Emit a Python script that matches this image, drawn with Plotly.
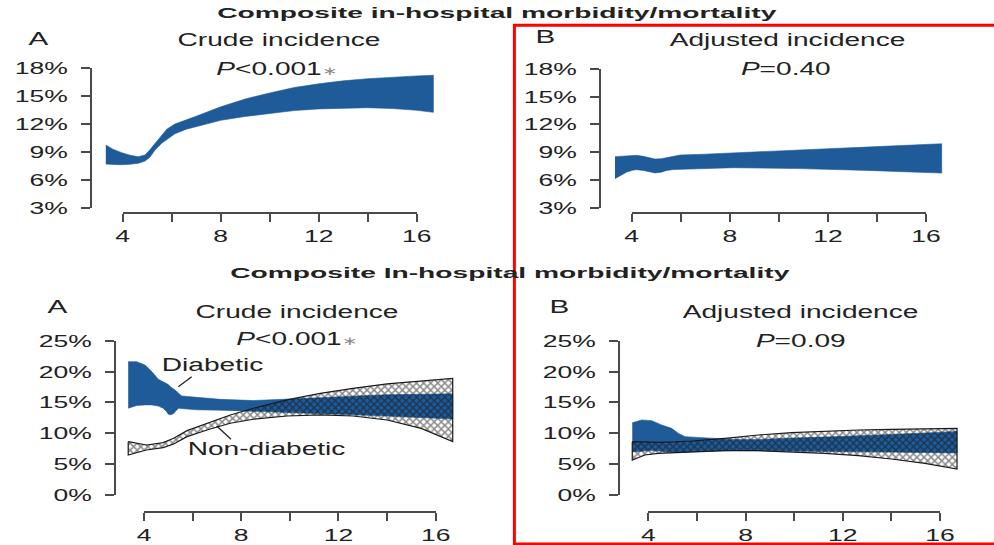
import plotly.graph_objects as go

W, H = 994, 545
BLUE = "#1f5b99"
INK = "#222222"
AXIS = "#4a4a4a"
FONT = "Liberation Sans"

# ---------------- data (incidence, %) ----------------
# Top row: whole cohort, composite in-hospital morbidity/mortality
crude_x = [3.31, 3.6, 3.96, 4.3, 4.64, 4.91, 5.1, 5.32, 5.59, 5.8, 6.13, 6.6, 7.0,
           8.0, 9.0, 10.0, 11.0, 12.0, 13.0, 14.0, 15.0, 16.0, 16.68]
crude_hi = [9.74, 9.3, 8.92, 8.65, 8.49, 8.67, 9.2, 9.93, 10.8, 11.45, 12.0, 12.5, 12.85,
            13.85, 14.7, 15.35, 15.93, 16.33, 16.65, 16.88, 17.07, 17.18, 17.25]
crude_lo = [7.7, 7.66, 7.63, 7.68, 7.77, 8.02, 8.4, 9.2, 9.93, 10.35, 10.95, 11.45, 11.75,
            12.4, 12.82, 13.17, 13.45, 13.63, 13.73, 13.76, 13.67, 13.48, 13.26]

adj_x = [3.32, 3.8, 4.07, 4.2, 4.47, 4.75, 4.95, 5.2, 5.43, 5.7, 5.97, 7.0, 8.14,
         10.86, 13.58, 16.64]
adj_hi = [8.53, 8.62, 8.67, 8.67, 8.56, 8.35, 8.27, 8.3, 8.42, 8.6, 8.7, 8.8, 8.92,
          9.28, 9.56, 9.92]
adj_lo = [6.16, 6.87, 7.08, 7.13, 7.05, 6.9, 6.78, 6.85, 7.05, 7.14, 7.19, 7.28, 7.34,
          7.24, 7.05, 6.76]

# Bottom row: diabetic vs non-diabetic
dm_crude_x = [3.35, 3.7, 4.04, 4.32, 4.59, 4.79, 4.93, 5.0, 5.1, 5.22, 5.28, 5.42, 5.55,
              6.17, 7.13, 8.5, 10.0, 12.0, 14.0, 16.7]
dm_crude_hi = [21.6, 21.6, 21.07, 20.0, 18.75, 18.3, 18.1, 17.9, 17.5, 17.2, 17.0, 16.5,
               16.05, 15.83, 15.5, 15.3, 15.55, 15.95, 16.25, 16.4]
dm_crude_lo = [14.05, 14.5, 14.6, 14.6, 14.4, 14.05, 13.5, 13.1, 13.0, 13.2, 13.5, 14.05,
               13.95, 13.8, 13.75, 13.6, 13.35, 13.1, 12.8, 12.3]

nd_crude_x = [3.35, 4.1, 4.79, 5.22, 5.77, 6.59, 7.55, 8.5, 9.88, 11.25, 12.6, 14.0, 15.4, 16.7]
nd_crude_hi = [8.64, 8.1, 8.48, 9.19, 10.43, 11.62, 12.97, 14.05, 15.4, 16.48, 17.29,
               17.99, 18.5, 18.9]
nd_crude_lo = [6.48, 7.29, 7.67, 8.27, 9.45, 10.53, 11.62, 12.27, 12.8, 12.97, 12.8,
               12.15, 10.8, 8.64]

dm_adj_x = [3.34, 3.73, 4.14, 4.55, 4.96, 5.23, 5.51, 6.47, 7.5, 8.5, 10.0, 12.0, 14.0, 16.7]
dm_adj_hi = [11.7, 12.15, 12.05, 11.35, 10.8, 10.0, 9.45, 9.19, 9.0, 9.0, 9.2, 9.5, 9.8, 10.3]
dm_adj_lo = [7.0, 7.1, 7.2, 7.1, 6.9, 6.9, 7.0, 7.1, 7.2, 7.2, 7.15, 7.05, 6.95, 6.8]

nd_adj_x = [3.34, 3.86, 4.41, 5.09, 5.78, 7.15, 8.52, 9.89, 11.26, 12.64, 14.0, 15.38, 16.7]
nd_adj_hi = [8.64, 8.58, 8.53, 8.6, 8.75, 9.19, 9.72, 10.1, 10.37, 10.53, 10.64, 10.75, 10.8]
nd_adj_lo = [5.67, 6.48, 6.75, 6.86, 7.02, 7.18, 7.18, 7.02, 6.75, 6.37, 5.83, 5.13, 4.21]

x_ticks = [4, 6, 8, 10, 12, 14, 16]
x_tick_text = ["4", "", "8", "", "12", "", "16"]
top_y_ticks = [3, 6, 9, 12, 15, 18]
bot_y_ticks = [0, 5, 10, 15, 20, 25]

# ---------------- panel geometry (pixels) ----------------
# ax: pixel span of the x axis line (value 4 -> 16); ay: pixel span of y axis line
# xl_y: vertical pixel of x axis line; yl_x: horizontal pixel of y axis line
# box: data area in pixels (x0, x1, y_top, y_bottom)
panels = [
    dict(ax=(122.7, 416.7), ay=(207.7, 68.3), yr=(3, 18), xl_y=213, yl_x=91,
         box=(92, 448, 45, 212), yt=top_y_ticks),
    dict(ax=(631.7, 926.0), ay=(208.0, 68.7), yr=(3, 18), xl_y=213, yl_x=600,
         box=(601, 962, 45, 212), yt=top_y_ticks),
    dict(ax=(144.0, 435.7), ay=(495.0, 340.7), yr=(0, 25), xl_y=512, yl_x=115,
         box=(116, 465, 330, 510), yt=bot_y_ticks),
    dict(ax=(648.3, 940.0), ay=(495.0, 340.7), yr=(0, 25), xl_y=512, yl_x=619,
         box=(620, 978, 330, 510), yt=bot_y_ticks),
]


def lin(p, p0, p1, v0, v1):
    return v0 + (p - p0) * (v1 - v0) / (p1 - p0)


fig = go.Figure()
layout = {}

for i, pnl in enumerate(panels):
    d = i + 1            # data axes
    s = i + 5            # display axes (R-style detached axis lines)
    x0, x1, yt, yb = pnl["box"]
    xr = [lin(x0, *pnl["ax"], 4, 16), lin(x1, *pnl["ax"], 4, 16)]
    yr = [lin(yb, *pnl["ay"], *pnl["yr"]), lin(yt, *pnl["ay"], *pnl["yr"])]
    layout[f"xaxis{d}"] = dict(domain=[x0 / W, x1 / W], range=xr, visible=False,
                               anchor=f"y{d}", fixedrange=True, automargin=False)
    layout[f"yaxis{d}"] = dict(domain=[1 - yb / H, 1 - yt / H], range=yr, visible=False,
                               anchor=f"x{d}", fixedrange=True, automargin=False)
    layout[f"xaxis{s}"] = dict(
        domain=[pnl["ax"][0] / W, pnl["ax"][1] / W], range=[4, 16],
        anchor="free", position=1 - pnl["xl_y"] / H, side="bottom", automargin=False,
        showline=True, linecolor=AXIS, linewidth=1.5, showgrid=False, zeroline=False,
        ticks="outside", ticklen=8, tickwidth=1.5, tickcolor=AXIS,
        tickvals=x_ticks, ticktext=x_tick_text, ticklabelstandoff=0,
        tickfont=dict(family=FONT, size=17, color=INK), fixedrange=True)
    layout[f"yaxis{s}"] = dict(
        domain=[1 - pnl["ay"][0] / H, 1 - pnl["ay"][1] / H], range=list(pnl["yr"]),
        anchor="free", position=pnl["yl_x"] / W, side="left", automargin=False,
        showline=True, linecolor=AXIS, linewidth=1.5, showgrid=False, zeroline=False,
        ticks="outside", ticklen=9, tickwidth=1.5, tickcolor=AXIS,
        tickvals=pnl["yt"], ticktext=[f"{v}%" for v in pnl["yt"]], ticklabelstandoff=10,
        tickfont=dict(family=FONT, size=17, color=INK), fixedrange=True)
    fig.add_trace(go.Scatter(x=[], y=[], xaxis=f"x{s}", yaxis=f"y{s}",
                             showlegend=False, hoverinfo="skip"))


def solid_band(xs, hi, lo, d):
    fig.add_trace(go.Scatter(
        x=xs + xs[::-1], y=hi + lo[::-1], fill="toself", fillcolor=BLUE,
        mode="lines", line=dict(width=0.6, color=BLUE),
        xaxis=f"x{d}", yaxis=f"y{d}", showlegend=False, hoverinfo="skip"))


def hatched_band(xs, hi, lo, d):
    fig.add_trace(go.Scatter(
        x=xs + xs[::-1] + xs[:1], y=hi + lo[::-1] + hi[:1], fill="toself",
        fillcolor="rgba(0,0,0,0)",
        fillpattern=dict(shape="x", fgcolor="#141414", bgcolor="rgba(0,0,0,0)",
                         size=5, solidity=0.5),
        mode="lines", line=dict(width=1.2, color="#1a1a1a"),
        xaxis=f"x{d}", yaxis=f"y{d}", showlegend=False, hoverinfo="skip"))


solid_band(crude_x, crude_hi, crude_lo, 1)
solid_band(adj_x, adj_hi, adj_lo, 2)
solid_band(dm_crude_x, dm_crude_hi, dm_crude_lo, 3)
hatched_band(nd_crude_x, nd_crude_hi, nd_crude_lo, 3)
solid_band(dm_adj_x, dm_adj_hi, dm_adj_lo, 4)
hatched_band(nd_adj_x, nd_adj_hi, nd_adj_lo, 4)


def label(text, px, py, size, color=INK):
    return dict(text=text, x=px / W, y=1 - py / H, xref="paper", yref="paper",
                xanchor="center", yanchor="middle", showarrow=False,
                font=dict(family=FONT, size=size, color=color))


star = "<span style='color:#8a8a8a;font-size:12px'>∗</span>"
annotations = [
    label("<b>Composite in-hospital morbidity/mortality</b>", 497, 13, 15),
    label("<b>Composite In-hospital morbidity/mortality</b>", 510, 272, 15),
    label("A", 38, 38, 19), label("B", 545, 37, 19),
    label("A", 57, 306, 19), label("B", 559, 306, 19),
    label("Crude incidence", 279, 40, 18),
    label("<i>P</i>&lt;0.001" + star, 277, 69, 18),
    label("Adjusted incidence", 787, 40, 18),
    label("<i>P</i>=0.40", 786, 69, 18),
    label("Crude incidence", 297, 312, 18),
    label("<i>P</i>&lt;0.001" + star, 297, 339, 18),
    label("Adjusted incidence", 800, 312, 18),
    label("<i>P</i>=0.09", 801, 341, 18),
    label("Diabetic", 212, 365, 18),
    label("Non-diabetic", 266, 449, 18),
]


def seg(x0, y0, x1, y1, color=INK, width=1.3):
    return dict(type="line", xref="paper", yref="paper",
                x0=x0 / W, y0=1 - y0 / H, x1=x1 / W, y1=1 - y1 / H,
                line=dict(color=color, width=width))


shapes = [
    seg(191.7, 376.7, 178.3, 386.7),
    seg(231.0, 439.3, 216.7, 426.0),
    dict(type="rect", xref="paper", yref="paper",
         x0=514.4 / W, y0=1 - 544 / H, x1=1.05, y1=1 - 25.3 / H,
         line=dict(color="#ff0000", width=3), fillcolor="rgba(0,0,0,0)"),
]

fig.update_layout(
    width=W, height=H, margin=dict(l=0, r=0, t=0, b=0, autoexpand=False),
    paper_bgcolor="white", plot_bgcolor="rgba(0,0,0,0)",
    showlegend=False, annotations=annotations, shapes=shapes, **layout)

# Wide lettering: stretch every SVG text horizontally about its anchor point
# (bold headings a little more).
widen_text = """
var gd = document.getElementById('{plot_id}');
gd.querySelectorAll('svg text').forEach(function (t) {
    var src = t.getAttribute('data-unformatted') || '';
    var k = src.indexOf('<b>') >= 0 ? 1.88 : 1.56;
    var x = parseFloat(t.getAttribute('x')) || 0;
    var tr = t.getAttribute('transform') || '';
    t.setAttribute('transform', tr + ' translate(' + x + ',0) scale(' + k + ',1) translate(' + (-x) + ',0)');
});
"""

fig.write_html("out.html", post_script=widen_text)
